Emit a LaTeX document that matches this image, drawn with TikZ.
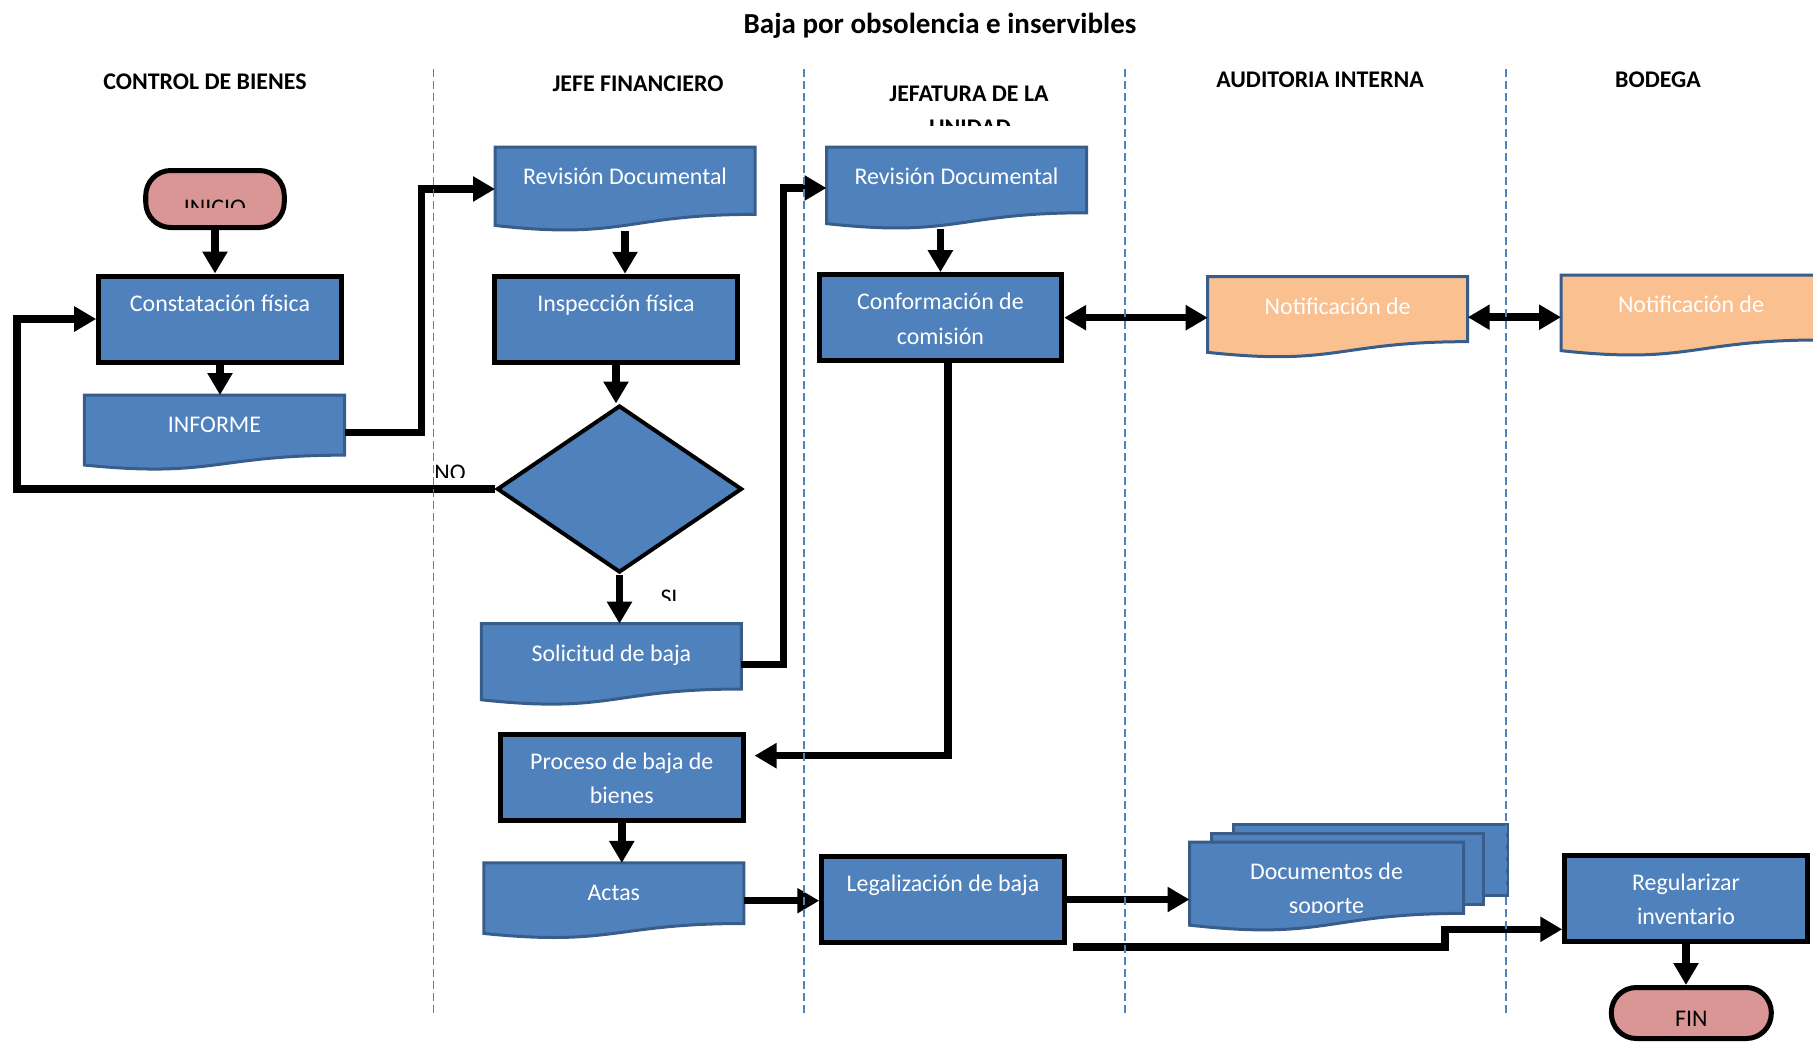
\documentclass[tikz,border=0pt]{standalone}
\usepackage{fontspec}
\setmainfont{Carlito}
\usepackage{tikz}
\usetikzlibrary{shapes.geometric, arrows.meta, calc, backgrounds}

\definecolor{azul}{HTML}{4F81BD}
\definecolor{azulosc}{HTML}{385D8A}
\definecolor{rosa}{HTML}{D99694}
\definecolor{naranja}{HTML}{FAC090}

\newcommand{\fsize}{\fontsize{13.6}{19.5}\selectfont}
% contorno de documento (borde inferior ondulado)
\newcommand{\docpath}[1]{(#1.north west) -- (#1.north east) -- ($(#1.north east)!0.802!(#1.south east)$) .. controls ($(#1.north)!0.802!(#1.south)$) and ($(#1.north)!1.1075!(#1.south)$) .. ($(#1.north west)!0.934!(#1.south west)$) -- cycle}

\begin{document}
\begin{tikzpicture}[
  x=0.2mm, y=-0.2mm,
  box/.style={draw, line width=0.1cm, fill=azul, text=white, font=\fsize, align=center, minimum width=4.85cm, minimum height=1.72cm, text height=0.35cm, text depth=0.67cm},
  twolines/.style={text height=1.1cm, text depth=0.044cm},
  doc/.style={text=white, font=\fsize, align=center, outer sep=0pt, minimum width=5.2cm, minimum height=#1, text height=0.35cm, text depth={#1-1.15cm}},
  term/.style={draw, line width=0.1cm, fill=rosa, rounded corners=0.5cm, minimum width=2.77cm, minimum height=1.14cm, font=\fsize},
  decision/.style={draw, diamond, line width=0.08cm, fill=azul, minimum width=4.9cm, minimum height=3.34cm},
  header/.style={font=\fsize\bfseries, anchor=base},
  lbl/.style={font=\fsize, anchor=base},
  docline/.style={draw=azulosc, line width=0.06cm, fill=azul},
  notline/.style={draw=azulosc, line width=0.06cm, fill=naranja},
  arr/.style={-{Triangle[width=0.48cm, length=0.44cm]}, line width=0.15cm},
  dbl/.style={{Triangle[width=0.48cm, length=0.44cm]}-{Triangle[width=0.48cm, length=0.44cm]}, line width=0.15cm},
  lanesep/.style={draw=azul, line width=0.036cm, dash pattern=on 0.16cm off 0.08cm}
]
\useasboundingbox (0,0) rectangle (1813,1043);

% titulo y carriles
\node[font=\fontsize{16.5}{20}\selectfont\bfseries, anchor=base] (titulo) at (940,33) {Baja por obsolencia e inservibles};
\node[header] (hcb) at (205,89) {CONTROL DE BIENES};
\node[header] (hjf) at (638,91) {JEFE FINANCIERO};
\node[header] (hju) at (969,101) {JEFATURA DE LA};
\begin{scope}
  \clip (900,100) rectangle (1040,125);
  \node[header] (hju2) at (970,135.5) {UNIDAD};
\end{scope}
\node[header] (hai) at (1320,87) {AUDITORIA INTERNA};
\node[header] (hbo) at (1658,87) {BODEGA};

% control de bienes
\node[term] (ini) at (215,199) {};
\begin{scope}
  \clip (150,180) rectangle (280,207);
  \node[lbl] (initxt) at (215,215) {INICIO};
\end{scope}
\node[box] (const) at (220,319) {Constatación física};
\node[doc=1.5cm] (inf) at (214.5,432.5) {INFORME};

% jefe financiero
\node[doc=1.68cm] (rev1) at (625,189) {Revisión Documental};
\node[box] (insp) at (616,319.3) {Inspección física};
\node[decision] (dec) at (619.5,489) {};
\node[doc=1.63cm] (sol) at (611.4,664.4) {Solicitud de baja};
\node[box, twolines] (proc) at (621.8,777.5) {Proceso de baja de\\bienes};
\node[doc=1.51cm] (actas) at (613.8,900.7) {Actas};
\begin{scope}
  \clip (430,450) rectangle (480,477);
  \node[lbl] (no) at (450,480.5) {NO};
\end{scope}
\begin{scope}
  \clip (650,580) rectangle (690,600.7);
  \node[lbl] (si) at (669,605) {SI};
\end{scope}

% jefatura de la unidad
\node[doc=1.64cm] (rev2) at (956.5,188) {Revisión Documental};
\node[box, twolines] (conf) at (940.4,317.7) {Conformación de\\comisión};
\node[box] (legal) at (943,899.5) {Legalización de baja};

% auditoria interna
\node[doc=1.62cm] (not1) at (1337.7,317.2) {Notificación de};
\begin{scope}
  \clip (1180,830) rectangle (1470,912);
  \node[doc=1.78cm, minimum width=5.48cm, text height=1.15cm, text depth=0.054cm] (docs) at (1326.5,886.5) {Documentos de\\soporte};
\end{scope}

% bodega
\node[doc=1.62cm] (not2) at (1691,315.5) {Notificación de};
\node[box, twolines] (reg) at (1686,898.3) {Regularizar\\inventario};
\node[term, minimum width=3.2cm, minimum height=1.02cm, text height=0.55cm, text depth=0cm] (fin) at (1691.3,1013) {FIN};

\begin{scope}[on background layer]
  \foreach \n in {inf, rev1, sol, actas, rev2}
    \path[docline] \docpath{\n};
  \foreach \n in {not1, not2}
    \path[notline] \docpath{\n};
  \path[docline] ($(docs.north west)+(44,-18)$) rectangle ($(docs.north east)+(44,53)$);
  \path[docline] ($(docs.north west)+(22,-9)$) rectangle ($(docs.north east)+(20,62)$);
  \path[docline] \docpath{docs};
\end{scope}

\draw[arr] (ini) -- (ini |- const.north);
\draw[arr] (const.south) -- (const.south |- inf.north);
\draw[arr] (inf.east) -- ++(77,0) |- (rev1.west);
\draw[arr] (rev1.south) -- (rev1.south |- insp.north);
\draw[arr] (insp.south) -- (insp.south |- dec.north);
\draw[arr] (dec.west) -- ++(-478,0) |- (const.west);
\draw[arr] (dec.south) -- (dec.south |- sol.north);
\draw[arr] (sol.east) -- ++(42,0) |- (rev2.west);
\draw[arr] (rev2.south -| conf.north) -- (conf.north);
\draw[dbl] (conf.east) -- (conf.east -| not1.west);
\draw[dbl] (not1.east) -- (not1.east -| not2.west);
\draw[arr, shorten >=0.18cm] ([xshift=0.15cm]conf.south) |- (proc.10);
\draw[arr] (proc.south) -- (proc.south |- actas.north);
\draw[arr] (actas.east) -- (actas.east -| legal.west);
\draw[arr] (legal.east) -- (legal.east -| docs.west);
\draw[arr] ($(legal.south east)+(6,2)$) -- ++(372,0) |- ($(reg.west)+(0,31)$);
\draw[arr] (reg.south) -- (reg.south |- fin.north);

% separadores de carriles
\foreach \x in {433.5, 803.7, 1125.3, 1505.6}
  \draw[lanesep] (\x,69) -- (\x,1013);

\end{tikzpicture}
\end{document}
